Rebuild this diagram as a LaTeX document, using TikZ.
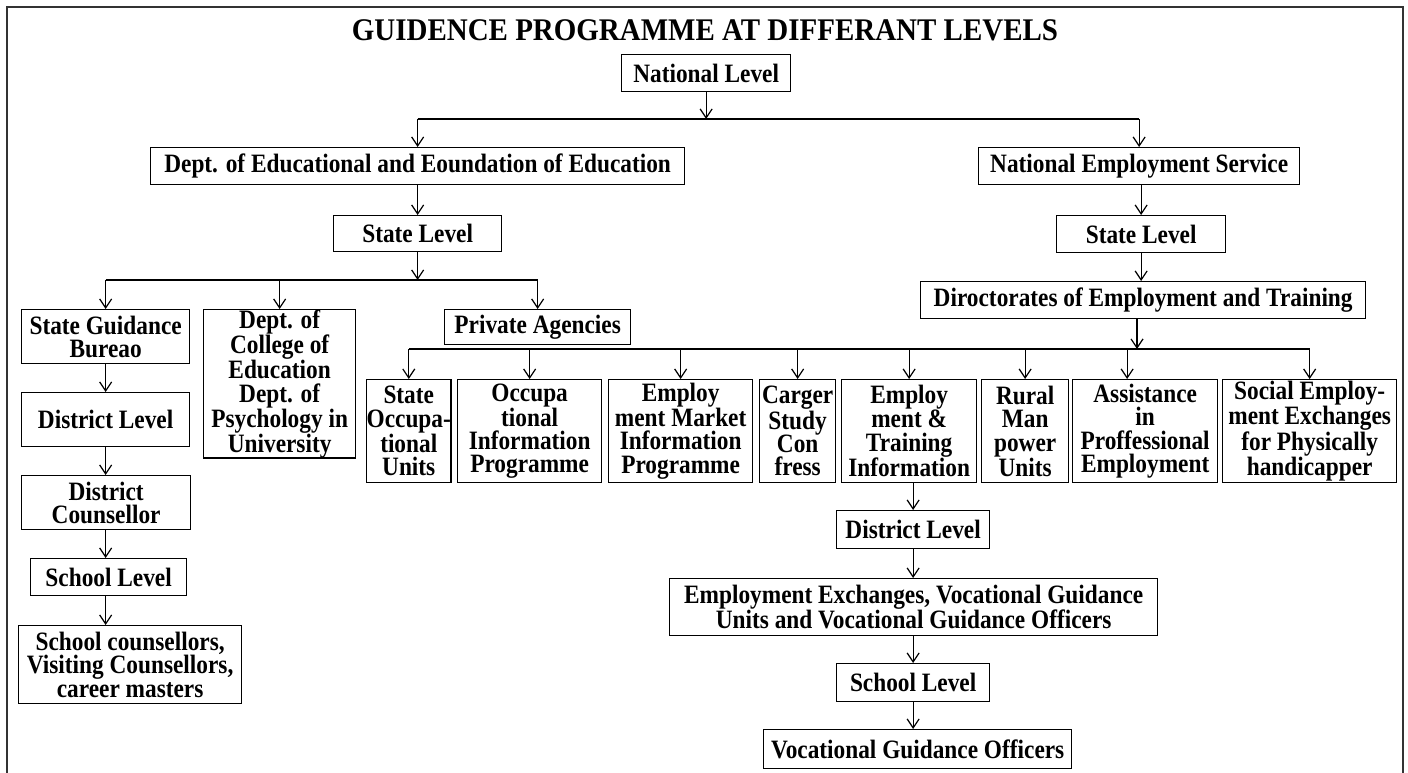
\documentclass[tikz,border=0pt]{standalone}
\usepackage{fontspec}
\setmainfont[FakeStretch=0.88]{Liberation Serif}
\newfontfamily\titlefam[FakeStretch=0.92]{Liberation Serif}
\usepackage{tikz}
\usetikzlibrary{arrows.meta, positioning, calc}

\newcommand\boxfont{\fontsize{26.5}{23.3}\selectfont\bfseries}
\newcommand\titlefont{\titlefam\fontsize{31.5}{32}\selectfont\bfseries}

\begin{document}
\begin{tikzpicture}[
  x=1pt, y=-1pt,
  lvl/.style={draw, line width=1.3pt, align=center, inner sep=0pt, anchor=north west, font=\boxfont},
  arr/.style={-{Straight Barb[length=9pt,width=12pt]}, line width=1.2pt},
  bus/.style={line width=2.8pt},
]
  \useasboundingbox (0,0) rectangle (1408,773);
  \draw[line width=1.5pt, black!80] (7,773) -- (7,7) -- (1403,7) -- (1403,773);

  \node[font=\titlefont] (title) at (705,30) {GUIDENCE PROGRAMME AT DIFFERANT LEVELS};

  % top levels
  \node[lvl, minimum width=169pt, minimum height=37pt] (nat) at (621,54) {National Level};
  \node[lvl, minimum width=534pt, minimum height=37pt] (dept) at (150,147) {Dept. of Educational and Eoundation of Education};
  \node[lvl, minimum width=321pt, minimum height=37pt] (nes) at (978,147) {National Employment Service};
  \node[lvl, minimum width=168pt, minimum height=36pt] (stl) at (333,215) {State Level};
  \node[lvl, minimum width=169pt, minimum height=37pt] (str) at (1056,215) {State Level};
  \node[lvl, minimum width=445pt, minimum height=37pt] (dir) at (920,281) {Diroctorates of Employment and Training};

  % left branch
  \node[lvl, minimum width=168pt, minimum height=54pt] (sgb) at (21,309) {State Guidance\\Bureao};
  \node[lvl, minimum width=152pt, minimum height=148pt] (dcol) at (203,309) {Dept. of\\College of\\Education\\Dept. of\\Psychology in\\University};
  \node[lvl, minimum width=186pt, minimum height=35pt] (priv) at (444,309) {Private Agencies};
  \node[lvl, minimum width=168pt, minimum height=54pt] (dlv) at (21,392) {District Level};
  \node[lvl, minimum width=169pt, minimum height=54pt] (dcou) at (21,475) {District\\Counsellor};
  \node[lvl, minimum width=156pt, minimum height=37pt] (slv) at (30,558) {School Level};
  \node[lvl, minimum width=223pt, minimum height=78pt] (scou) at (18,625) {School counsellors,\\Visiting Counsellors,\\career masters};

  % row of units
  \node[lvl, minimum width=84pt, minimum height=103pt] (soc) at (366,379) {State\\Occupa-\\tional\\Units};
  \node[lvl, minimum width=144pt, minimum height=103pt] (occ) at (457,379) {Occupa\\tional\\Information\\Programme};
  \node[lvl, minimum width=144pt, minimum height=103pt] (emk) at (608,379) {Employ\\ment Market\\Information\\Programme};
  \node[lvl, minimum width=76pt, minimum height=103pt] (car) at (759,379) {Carger\\Study\\Con\\fress};
  \node[lvl, minimum width=135pt, minimum height=103pt] (etr) at (841,379) {Employ\\ment \&\\Training\\Information};
  \node[lvl, minimum width=87pt, minimum height=103pt] (rur) at (981,379) {Rural\\Man\\power\\Units};
  \node[lvl, minimum width=145pt, minimum height=103pt] (ass) at (1072,379) {Assistance\\in\\Proffessional\\Employment};
  \node[lvl, minimum width=174pt, minimum height=103pt] (soe) at (1222,379) {Social Employ-\\ment Exchanges\\for Physically\\handicapper};

  % right branch
  \node[lvl, minimum width=153pt, minimum height=38pt] (drv) at (836,510) {District Level};
  \node[lvl, minimum width=488pt, minimum height=57pt] (eex) at (669,578) {Employment Exchanges, Vocational Guidance\\Units and Vocational Guidance Officers};
  \node[lvl, minimum width=153pt, minimum height=38pt] (srv) at (836,663) {School Level};
  \node[lvl, minimum width=308pt, minimum height=39pt] (vgo) at (763,729) {Vocational Guidance Officers};

  \coordinate (bus1) at (705,119);
  \coordinate (bus2) at (417,280);
  \coordinate (bus3) at (1137,349);

  \draw[bus] (dept.north |- bus1) -- (nes.north |- bus1);
  \draw[arr] (nat.south) -- (nat.south |- bus1);
  \draw[arr] (dept.north |- bus1) -- (dept.north);
  \draw[arr] (nes.north |- bus1) -- (nes.north);
  \draw[arr] (dept.south) -- (stl.north);
  \draw[arr] (nes.south -| str.north) -- (str.north);
  \draw[arr] (str.south) -- (str.south |- dir.north);

  \draw[bus] (sgb.north |- bus2) -- (priv.north |- bus2);
  \draw[arr] (stl.south) -- (stl.south |- bus2);
  \draw[arr] (sgb.north |- bus2) -- (sgb.north);
  \draw[arr] (dcol.north |- bus2) -- (dcol.north);
  \draw[arr] (priv.north |- bus2) -- (priv.north);

  \draw[arr] (sgb.south) -- (sgb.south |- dlv.north);
  \draw[arr] (sgb.south |- dlv.south) -- (sgb.south |- dcou.north);
  \draw[arr] (sgb.south |- dcou.south) -- (sgb.south |- slv.north);
  \draw[arr] (sgb.south |- slv.south) -- (sgb.south |- scou.north);

  \draw[bus] (soc.north |- bus3) -- (soe.north |- bus3);
  \draw[arr] (bus3 |- dir.south) -- (bus3);
  \foreach \u in {soc, occ, emk, car, etr, rur, soe}
    \draw[arr] (\u.north |- bus3) -- (\u.north);
  \draw[arr] ([xshift=-18pt]ass.north |- bus3) -- ([xshift=-18pt]ass.north);

  \draw[arr] (drv.north |- etr.south) -- (drv.north);
  \draw[arr] (drv.south) -- (drv.south |- eex.north);
  \draw[arr] (drv.south |- eex.south) -- (drv.south |- srv.north);
  \draw[arr] (srv.south) -- (srv.south |- vgo.north);
\end{tikzpicture}
\end{document}
